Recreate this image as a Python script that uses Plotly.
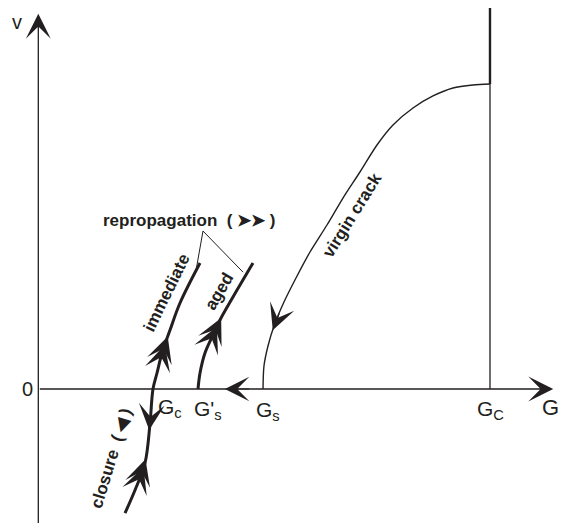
import numpy as np
import plotly.graph_objects as go

# schematic crack velocity v versus energy release rate G (arbitrary units, G_C = 10)
virgin_G = [10.0, 9.624, 9.181, 8.738, 8.295, 7.852, 7.498, 7.121, 6.745, 6.391,
            6.015, 5.705, 5.439, 5.218, 5.085, 4.996, 4.975]
virgin_v = [10.0, 9.967, 9.869, 9.607, 9.213, 8.656, 8.0, 7.115, 6.262, 5.377,
            4.492, 3.639, 2.852, 2.066, 1.410, 0.754, 0.0]

aged_G = [3.536, 3.580, 3.690, 3.845, 4.022, 4.310, 4.753]
aged_v = [0.0, 0.525, 1.180, 1.705, 2.262, 3.016, 4.131]

immediate_G = [1.920, 2.142, 2.363, 2.474, 2.539, 2.628, 2.738, 2.916, 3.137, 3.580]
immediate_v = [-4.066, -3.311, -2.426, -1.115, 0.0, 0.525, 1.180, 1.934, 2.820, 4.131]

threshold_labels = ["G<sub>c</sub>", "G'<sub>s</sub>", "G<sub>s</sub>", "G<sub>C</sub>"]
threshold_G = [2.54, 3.54, 4.98, 10.0]

# arrowheads along the curves: (curve, v at tip, +1 going up / -1 going down)
arrow_specs = [
    ("virgin", 1.93, -1),
    ("aged", 2.33, 1), ("aged", 2.05, 1),
    ("immediate", 1.72, 1), ("immediate", 1.45, 1),
    ("immediate", -1.34, -1),
    ("immediate", -2.30, 1), ("immediate", -2.56, 1),
]

curves = {
    "virgin": (virgin_G, virgin_v),
    "aged": (aged_G, aged_v),
    "immediate": (immediate_G, immediate_v),
}

INK = "#231f20"
SANS = "Liberation Sans, Arial, sans-serif"

fig = go.Figure()

# curves
fig.add_trace(go.Scatter(x=virgin_G, y=virgin_v, mode="lines",
                         line=dict(color=INK, width=1.4, shape="spline", smoothing=0.8)))
fig.add_trace(go.Scatter(x=aged_G, y=aged_v, mode="lines",
                         line=dict(color=INK, width=3, shape="spline", smoothing=1)))
fig.add_trace(go.Scatter(x=immediate_G, y=immediate_v, mode="lines",
                         line=dict(color=INK, width=3, shape="spline", smoothing=1)))

# vertical line at G_C, heavier above the virgin crack plateau
gc = threshold_G[-1]
fig.add_trace(go.Scatter(x=[gc, gc], y=[0, max(virgin_v)], mode="lines",
                         line=dict(color=INK, width=1.3)))
fig.add_trace(go.Scatter(x=[gc, gc], y=[max(virgin_v), 12.6], mode="lines",
                         line=dict(color=INK, width=2.4)))

# pointer lines from the "repropagation" label to the two curve ends
fig.add_trace(go.Scatter(x=[immediate_G[-1] - 0.09, 3.646, aged_G[-1] - 0.22],
                         y=[immediate_v[-1] - 0.26, 5.18, aged_v[-1] - 0.3],
                         mode="lines", line=dict(color=INK, width=1)))

annotations = []
head = dict(xref="x", yref="y", axref="x", ayref="y", text="", showarrow=True,
            arrowhead=3, arrowcolor=INK)

# axes with arrowheads
annotations.append(dict(head, x=0, y=12.3, ax=0, ay=-4.66, arrowsize=3.2, arrowwidth=1.3))
annotations.append(dict(head, x=11.4, y=0, ax=0, ay=0, arrowsize=3.2, arrowwidth=1.3))
# leftward arrow on G axis between G_s and G'_s
annotations.append(dict(head, x=4.13, y=0, ax=4.7, ay=0, arrowsize=3.4, arrowwidth=1.2))

# arrowheads on curves
for name, v_tip, d in arrow_specs:
    G, v = curves[name]
    order = np.argsort(v)
    vs = np.array(v)[order]
    gs = np.array(G)[order]
    v_tail = v_tip - d * 0.6
    annotations.append(dict(head, x=float(np.interp(v_tip, vs, gs)), y=v_tip,
                            ax=float(np.interp(v_tail, vs, gs)), ay=v_tail,
                            arrowsize=3.6, arrowwidth=1.2))

# threshold labels under the G axis
label_pos = [(2.917, -0.62), (3.757, -0.69), (5.085, -0.72), (10.02, -0.69)]
for lab, (x, y) in zip(threshold_labels, label_pos):
    annotations.append(dict(x=x, y=y, text=lab, showarrow=False,
                            font=dict(family=SANS, size=21, color=INK)))

# axis titles
annotations.append(dict(x=-0.472, y=12.03, text="v", showarrow=False,
                        font=dict(family=SANS, size=20, color=INK)))
annotations.append(dict(x=-0.25, y=0.0, text="0", showarrow=False,
                        font=dict(family=SANS, size=20, color=INK)))
annotations.append(dict(x=11.33, y=-0.62, text="G", showarrow=False,
                        font=dict(family=SANS, size=22, color=INK)))

# curve labels
bold = dict(family=SANS, size=17, color=INK)
annotations.append(dict(x=3.34, y=5.54, text="<b>repropagation  ( ➤➤ )</b>",
                        showarrow=False, font=bold))
annotations.append(dict(x=2.85, y=3.15, text="<b>immediate</b>", textangle=-64,
                        showarrow=False, font=bold))
annotations.append(dict(x=4.0, y=3.21, text="<b>aged</b>", textangle=-60,
                        showarrow=False, font=bold))
annotations.append(dict(x=6.94, y=5.7, text="<b>virgin crack</b>", textangle=-58,
                        showarrow=False, font=bold))
annotations.append(dict(x=1.62, y=-2.25, text="<b>closure  ( ◀ )</b>", textangle=-73,
                        showarrow=False, font=bold))

# the page body keeps an 8 px margin, so the figure fills the rest of the window
fig.update_layout(
    width=559, height=515,
    margin=dict(l=0, r=0, t=0, b=0),
    paper_bgcolor="white", plot_bgcolor="white",
    showlegend=False,
    xaxis=dict(range=[-0.671, 11.705], visible=False, fixedrange=True),
    yaxis=dict(range=[-4.393, 12.492], visible=False, fixedrange=True),
    annotations=annotations,
)

fig.write_html("out.html")
